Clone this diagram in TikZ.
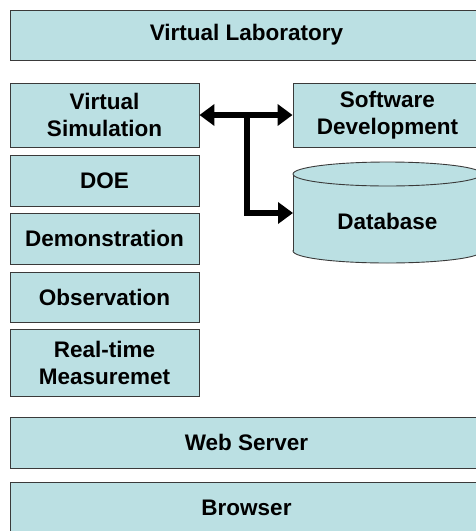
\documentclass[tikz,border=0pt]{standalone}
\usepackage{fontspec}
\setmainfont{Liberation Sans}
\usetikzlibrary{arrows.meta}
\definecolor{boxfill}{HTML}{BBE0E3}
\definecolor{boxline}{HTML}{3A3A3A}
\tikzset{
  box/.style={draw=boxline, fill=boxfill, line width=0.9pt, inner sep=0pt, align=center,
    font=\fontsize{22.5}{27}\selectfont\bfseries},
  bigarrow/.style={line width=6pt, line join=miter, black},
  bigtip/.tip={Triangle[length=15pt, width=21pt]}
}
\begin{document}
\begin{tikzpicture}[x=1pt,y=-1pt]
\useasboundingbox (0,0) rectangle (476,531);
\clip (0,0) rectangle (476,531);
% wide boxes
\node[box, minimum width=473pt, minimum height=50pt] (vl) at (246.5,35) {Virtual Laboratory};
\node[box, minimum width=473pt, minimum height=51pt] (ws) at (246.5,442.5) {Web Server};
\node[box, minimum width=473pt, minimum height=51pt] (br) at (246.5,507.5) {Browser};
% left column
\node[box, minimum width=189pt, minimum height=64pt] (vs) at (104.5,115) {Virtual\\Simulation};
\node[box, minimum width=189pt, minimum height=51pt] (doe) at (104.5,180.5) {DOE};
\node[box, minimum width=189pt, minimum height=51pt] (demo) at (104.5,238.5) {Demonstration};
\node[box, minimum width=189pt, minimum height=50pt] (obs) at (104.5,297) {Observation};
\node[box, minimum width=189pt, minimum height=67pt] (rt) at (104.5,362.5) {Real-time\\Measuremet};
% right column
\node[box, minimum width=189pt, minimum height=64pt] (sd) at (387.5,115) {Software\\Development};
% database cylinder
\filldraw[draw=boxline, fill=boxfill, line width=0.9pt] (387.5,251) ellipse [x radius=94.5pt, y radius=12pt];
\fill[boxfill] (293,174) rectangle (482,251);
\draw[boxline, line width=0.9pt] (293,174) -- (293,251) (482,174) -- (482,251);
\filldraw[draw=boxline, fill=boxfill, line width=0.9pt] (387.5,174) ellipse [x radius=94.5pt, y radius=12pt];
\node[font=\fontsize{22.5}{27}\selectfont\bfseries, inner sep=0pt] (db) at (387.5,221) {Database};
\coordinate (dbw) at (293,213);
% connectors
\coordinate (j) at (247,115);
\draw[bigarrow, bigtip-bigtip] (vs.east) -- (sd.west);
\draw[bigarrow, -bigtip] (j) -- (j |- dbw) -- (dbw);
\end{tikzpicture}
\end{document}
